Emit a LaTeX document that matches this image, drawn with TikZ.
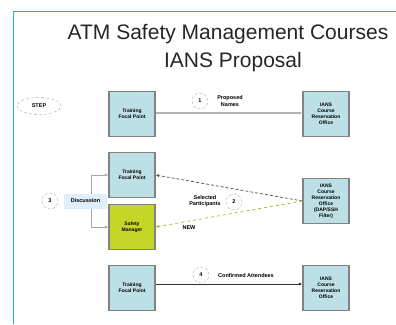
\documentclass[tikz,border=0pt]{standalone}
\usepackage{fontspec}
\setmainfont{Liberation Sans}
\usetikzlibrary{shapes.geometric,arrows.meta}
\definecolor{boxblue}{RGB}{188,224,229}
\definecolor{smgreen}{RGB}{198,214,40}
\definecolor{discblue}{RGB}{222,238,250}
\definecolor{framebl}{RGB}{40,165,228}
\definecolor{boxgray}{RGB}{130,130,130}
\tikzset{
  unit/.style={draw=boxgray, line width=1.1pt, fill=boxblue, minimum width=46pt,
    minimum height=45pt, inner sep=1pt, align=center,
    font=\bfseries\fontsize{5}{6}\selectfont},
  num/.style={circle, draw=gray!60, densely dashed, fill=white, minimum size=16pt,
    inner sep=0pt, font=\bfseries\fontsize{5.5}{6}\selectfont},
  lbl/.style={align=center, font=\bfseries\fontsize{5.5}{6.5}\selectfont},
  flow/.style={-{Latex[length=3.5pt,width=3pt]}, line width=0.7pt}
}
\begin{document}
\begin{tikzpicture}[x=1pt,y=-1pt]
\useasboundingbox (0,0) rectangle (396,324);
% frame
\draw[framebl, line width=0.9pt] (13,324) -- (13,11) -- (396,11);

\node[font=\fontsize{21}{25}\selectfont, text=black!85] (title) at (228,34) {ATM Safety Management Courses};
\node[font=\fontsize{21}{25}\selectfont, text=black!85] (subtitle) at (233,62) {IANS Proposal};

\node[ellipse, draw=gray!70, densely dashed, minimum width=44pt, minimum height=17pt,
  inner sep=0pt, font=\bfseries\fontsize{5.5}{6}\selectfont] (step) at (39,106) {STEP};

% step 1
\node[unit] (tfp1) at (132,114) {Training\\Focal Point};
\node[unit] (iro1) at (326,114) {IANS\\Course\\Reservation\\Office};
\draw[flow, gray!60, line width=1.4pt] (tfp1.east |- 0,113) -- (iro1.west |- 0,113);
\node[num] (n1) at (200,101) {1};
\node[lbl] (prop) at (230,101) {Proposed\\Names};

% step 2 and 3
\node[unit] (tfp2) at (132,175) {Training\\Focal Point};
\node[unit, fill=smgreen] (sm) at (132,227) {Safety\\Manager};
\node[unit] (iro2) at (326,201) {IANS\\Course\\Reservation\\Office\\(DAP/SSH\\Filter)};
\draw[flow, black!70, densely dashed] (iro2.west) -- (tfp2.east);
\draw[flow, smgreen!85!black, dashed] (iro2.west) -- (sm.east);
\node[num] (n2) at (234,202) {2};
\node[lbl] (sel) at (205,201) {Selected\\Participants};
\node[lbl] (new) at (189,228) {NEW};

\coordinate (brk) at (91,201);
\draw[flow, gray!70] (brk) |- (tfp2.west);
\draw[flow, gray!70] (brk) |- (sm.west);
\node[fill=discblue, minimum width=43pt, minimum height=15pt, inner sep=0pt,
  font=\bfseries\fontsize{5.5}{6}\selectfont] (disc) at (85.5,201) {Discussion};
\node[num] (n3) at (50,201) {3};

% step 4
\node[unit] (tfp3) at (132,288) {Training\\Focal Point};
\node[unit] (iro3) at (326,288) {IANS\\Course\\Reservation\\Office};
\draw[flow, black!80] (tfp3.east |- 0,284) -- (iro3.west |- 0,284);
\node[num] (n4) at (201,275) {4};
\node[lbl] (conf) at (246,276) {Confirmed Attendees};
\end{tikzpicture}
\end{document}
